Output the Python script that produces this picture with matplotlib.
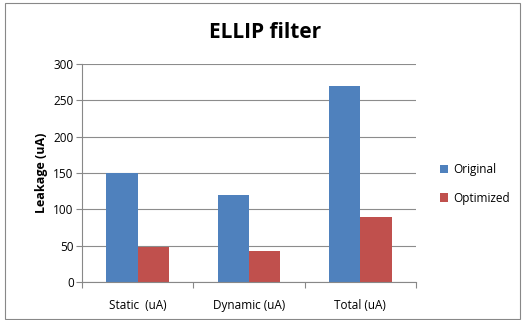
import numpy as np
import matplotlib.pyplot as plt
from matplotlib.patches import Rectangle

categories = ["Static  (uA)", "Dynamic (uA)", "Total (uA)"]
original = [150, 120, 270]
optimized = [48, 42, 90]
series_names = ["Original", "Optimized"]
yticks = [0, 50, 100, 150, 200, 250, 300]

blue = "#4f81bd"
red = "#c0504d"

plt.rcParams['font.family'] = ['Open Sans', 'DejaVu Sans']

fig = plt.figure(figsize=(5.29, 3.2), dpi=100)
# outer chart border
fig.patches.append(Rectangle((5 / 529, 1 / 320), 515 / 529, 316 / 320,
                             transform=fig.transFigure, fill=False,
                             edgecolor="#888888", linewidth=0.8))

ax = fig.add_axes([82 / 529, 38 / 320, 334 / 529, 218 / 320])

x = np.arange(len(categories)) + 0.5
w = 0.28
ax.bar(x - w / 2, original, w, color=blue, label=series_names[0])
ax.bar(x + w / 2, optimized, w, color=red, label=series_names[1])

ax.set_xlim(0, 3)
ax.set_ylim(0, 300)
ax.set_yticks(yticks)
ax.set_xticks([0, 1, 2, 3])
ax.set_xticklabels([])
ax.set_xticks(x, minor=True)
ax.set_xticklabels(categories, minor=True, fontsize=8.5)
ax.tick_params(axis='x', which='minor', length=0, pad=12)
ax.tick_params(axis='x', which='major', length=4, color="#888888", direction='out')
ax.tick_params(axis='y', length=4, color="#888888", labelsize=8.5, pad=2)

ax.grid(axis='y', color="#8c8c8c", linewidth=0.8)
ax.set_axisbelow(True)
for side in ['top', 'right']:
    ax.spines[side].set_visible(False)
for side in ['left', 'bottom']:
    ax.spines[side].set_color("#888888")

ax.set_ylabel("Leakage (uA)", fontsize=9, fontweight='bold', labelpad=4)
fig.text(265 / 529, 1 - 32 / 320, "ELLIP filter", ha='center', va='center',
         fontsize=15, fontweight='bold')

ax.legend(loc='center left', bbox_to_anchor=(1.04, 0.45), frameon=False,
          fontsize=8.5, handlelength=0.7, handleheight=0.7, labelspacing=1.3,
          handletextpad=0.4)

fig.savefig("out.png", dpi=100)
